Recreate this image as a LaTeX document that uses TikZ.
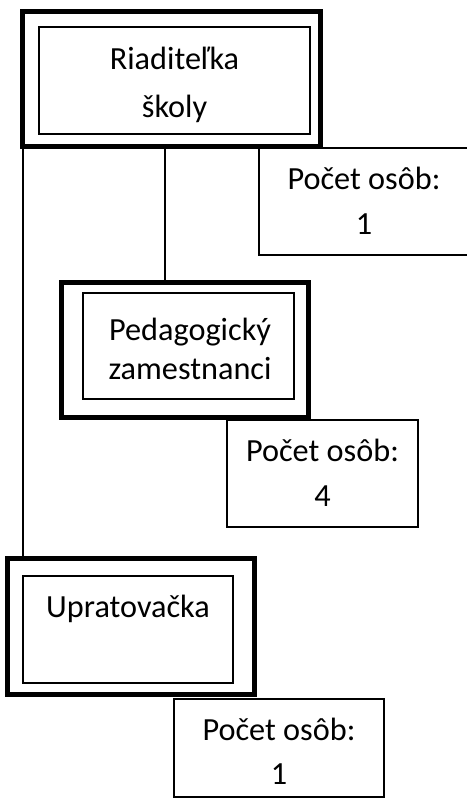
\documentclass[tikz,border=0pt]{standalone}
\usepackage{fontspec}
\setmainfont{Carlito}
\usetikzlibrary{fit}
\begin{document}
\begin{tikzpicture}[x=0.75pt,y=-0.75pt,
  outerbox/.style={draw, line width=3.75pt, inner sep=0pt, rectangle},
  innerbox/.style={draw, line width=1pt, inner sep=0pt, rectangle},
  countbox/.style={draw, line width=1.1pt, inner sep=0pt, rectangle},
  link/.style={line width=0.8pt},
  txt/.style={anchor=base, inner sep=0pt, font=\fontsize{24.2}{28}\selectfont}]
\useasboundingbox (0,0) rectangle (467,800);

% head of school
\node[outerbox, fit={(22,11) (320.5,146)}] (head) {};
\node[innerbox, fit={(39,27) (310,134)}] (headin) {};
\node[txt] (headA) at (174.5,69) {Riaditeľka};
\node[txt] (headB) at (174.5,117) {školy};
\node[countbox, fit={(259,148) (469,255)}] (cnt1) {};
\node[txt] (cnt1A) at (364,189) {Počet osôb:};
\node[txt] (cnt1B) at (364,234) {1};

% teaching staff
\node[outerbox, fit={(61,282.5) (308,417)}] (ped) {};
\node[innerbox, fit={(83,293) (294,399)}] (pedin) {};
\node[txt] (pedA) at (190,340) {Pedagogický};
\node[txt] (pedB) at (190,379) {zamestnanci};
\node[countbox, fit={(227,420) (418,527)}] (cnt2) {};
\node[txt] (cnt2A) at (322.5,461) {Počet osôb:};
\node[txt] (cnt2B) at (322.5,506) {4};

% cleaner
\node[outerbox, fit={(7.5,558) (254.5,694.5)}] (upr) {};
\node[innerbox, fit={(23,576) (233,683)}] (uprin) {};
\node[txt] (uprA) at (128,617) {Upratovačka};
\node[countbox, fit={(174,699) (384,797)}] (cnt3) {};
\node[txt] (cnt3A) at (279,740) {Počet osôb:};
\node[txt] (cnt3B) at (279,784) {1};

% connectors
\coordinate (xped) at (165,0);
\coordinate (xupr) at (23,0);
\draw[link] (xped |- head.south) -- (xped |- ped.north);
\draw[link] (xupr |- head.south) -- (xupr |- upr.north);
\end{tikzpicture}
\end{document}
